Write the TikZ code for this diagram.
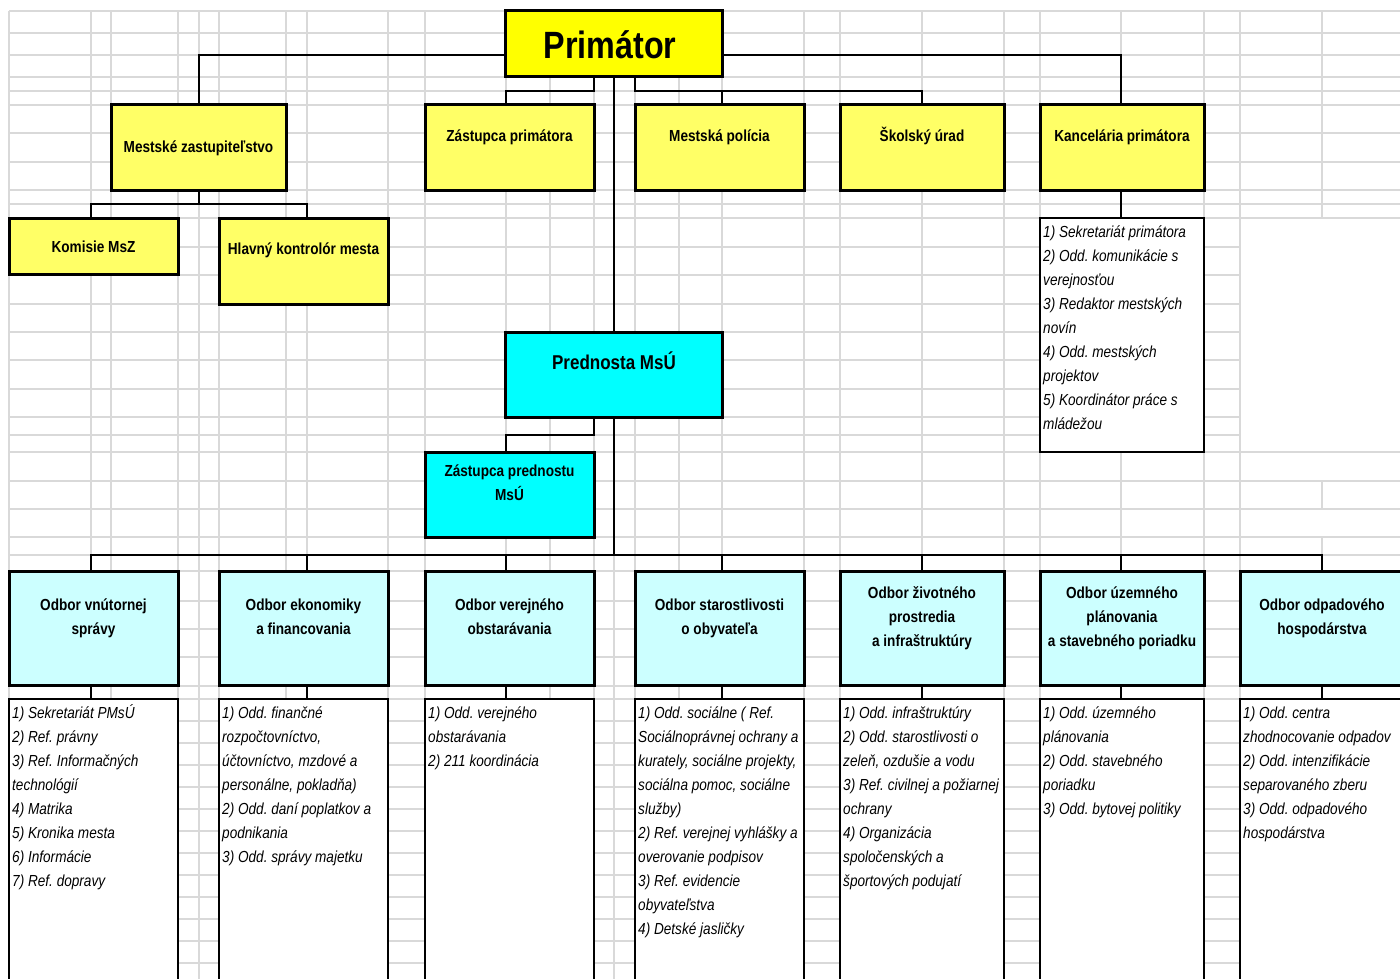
\documentclass[tikz,border=0pt]{standalone}
\usepackage{fontspec}
\setmainfont{Liberation Sans}[FakeStretch=0.85]
\usetikzlibrary{calc}
\frenchspacing
\definecolor{gridc}{RGB}{217,217,217}
\definecolor{primc}{RGB}{255,255,0}
\definecolor{lvlc}{RGB}{255,255,102}
\definecolor{cyanc}{RGB}{0,255,255}
\definecolor{odbc}{RGB}{204,255,255}
\newcommand\hdrtxt[1]{\parbox[t]{220pt}{\centering #1}}
\newcommand\lsttxt[1]{\parbox[t]{220pt}{\raggedright #1}}
\tikzset{
  basebox/.style={anchor=north west, inner sep=0pt, outer sep=0pt},
  heavy/.style={basebox, draw=black, line width=3pt},
  listbox/.style={basebox, draw=black, line width=1.6pt, fill=white},
  conn/.style={draw=black, line width=2pt},
  gridline/.style={draw=gridc, line width=1.6pt},
  hdr/.style={font=\fontsize{16}{24}\selectfont\bfseries, anchor=base, inner sep=0pt},
  itm/.style={font=\fontsize{16}{24}\selectfont\itshape, anchor=base west, inner sep=0pt},
}
\begin{document}
\begin{tikzpicture}[x=1pt,y=-1pt]
\useasboundingbox (0,0) rectangle (1400,979);
\clip (0,0) rectangle (1400,979);
\fill[white] (0,0) rectangle (1400,979);
% ---------- spreadsheet grid ----------
\foreach \x in {9,91,111,178,199,219,286,307,388,425,506,550,594,614,635,679,722,804,840,922,1004,1040,1121,1204,1240}
  \draw[gridline] (\x,11) -- (\x,979);
\foreach \y in {11,33,55,77,91,105,133,162,190,204,218,452,481,509,537,555,571,601,629,657,686,699,721,743,765,787,809,831,853,875,897,919,941,963}
  \draw[gridline] (9,\y) -- (1400,\y);
\foreach \y in {247,275,304,332,360,389,417,435}
  \draw[gridline] (9,\y) -- (1240,\y);
\draw[gridline] (1322,11) -- (1322,218);
\draw[gridline] (1322,481) -- (1322,509);
\draw[gridline] (1322,537) -- (1322,555);
% ---------- reference coordinates ----------
\coordinate (r55) at (0,55);
\coordinate (r91) at (0,91);
\coordinate (r204) at (0,204);
\coordinate (r435) at (0,435);
\coordinate (r555) at (0,555);
\coordinate (c91) at (91,0);
\coordinate (c199) at (199,0);
\coordinate (c307) at (307,0);
\coordinate (c506) at (506,0);
\coordinate (c594) at (594,0);
\coordinate (c614) at (614,0);
\coordinate (c635) at (635,0);
\coordinate (c722) at (722,0);
\coordinate (c922) at (922,0);
\coordinate (c1121) at (1121,0);
\coordinate (c1322) at (1322,0);
% ---------- boxes ----------
\node[heavy, fill=primc, minimum width=217, minimum height=66] (prim) at (505,11) {};
\node[heavy, fill=lvlc, minimum width=175, minimum height=85] (mz) at (111,105) {};
\node[heavy, fill=lvlc, minimum width=169, minimum height=85] (zp) at (425,105) {};
\node[heavy, fill=lvlc, minimum width=169, minimum height=85] (mp) at (635,105) {};
\node[heavy, fill=lvlc, minimum width=164, minimum height=85] (su) at (840,105) {};
\node[heavy, fill=lvlc, minimum width=164, minimum height=85] (kp) at (1040,105) {};
\node[heavy, fill=lvlc, minimum width=169, minimum height=56] (km) at (9,218) {};
\node[heavy, fill=lvlc, minimum width=169, minimum height=86] (hk) at (219,218) {};
\node[listbox, minimum width=164, minimum height=234] (kl) at (1040,218) {};
\node[heavy, fill=cyanc, minimum width=217, minimum height=85] (pr) at (505,332) {};
\node[heavy, fill=cyanc, minimum width=169, minimum height=85] (zpr) at (425,452) {};
\node[heavy, fill=odbc, minimum width=169, minimum height=114] (o1) at (9,571) {};
\node[heavy, fill=odbc, minimum width=169, minimum height=114] (o2) at (219,571) {};
\node[heavy, fill=odbc, minimum width=169, minimum height=114] (o3) at (425,571) {};
\node[heavy, fill=odbc, minimum width=169, minimum height=114] (o4) at (635,571) {};
\node[heavy, fill=odbc, minimum width=164, minimum height=114] (o5) at (840,571) {};
\node[heavy, fill=odbc, minimum width=164, minimum height=114] (o6) at (1040,571) {};
\node[heavy, fill=odbc, minimum width=164, minimum height=114] (o7) at (1240,571) {};
\node[listbox, minimum width=169, minimum height=320] (l1) at (9,699) {};
\node[listbox, minimum width=169, minimum height=320] (l2) at (219,699) {};
\node[listbox, minimum width=169, minimum height=320] (l3) at (425,699) {};
\node[listbox, minimum width=169, minimum height=320] (l4) at (635,699) {};
\node[listbox, minimum width=164, minimum height=320] (l5) at (840,699) {};
\node[listbox, minimum width=164, minimum height=320] (l6) at (1040,699) {};
\node[listbox, minimum width=164, minimum height=320] (l7) at (1240,699) {};
% ---------- connectors ----------
\draw[conn] (mz.north -| c199) |- (prim.west |- r55);
\draw[conn] (kp.north -| c1121) |- (prim.east |- r55);
\draw[conn] (prim.south -| c594) -- (c594 |- r91) -| (zp.north -| c506);
\draw[conn] (prim.south -| c635) -- (c635 |- r91) -| (su.north -| c922);
\draw[conn] (mp.north -| c722) -- (c722 |- r91);
\draw[conn] (prim.south -| c614) -- (pr.north -| c614);
\draw[conn] (pr.south -| c614) -- (c614 |- r555);
\draw[conn] (pr.south -| c594) -- (c594 |- r435) -| (zpr.north -| c506);
\draw[conn] (mz.south -| c199) -- (c199 |- r204);
\draw[conn] (km.north -| c91) |- (c307 |- r204) -- (hk.north -| c307);
\draw[conn] (kp.south -| c1121) -- (kl.north -| c1121);
\draw[conn] (o1.north -| c91) |- (c1322 |- r555) -- (o7.north -| c1322);
\draw[conn] (o2.north -| c307) -- (c307 |- r555);
\draw[conn] (o3.north -| c506) -- (c506 |- r555);
\draw[conn] (o4.north -| c722) -- (c722 |- r555);
\draw[conn] (o5.north -| c922) -- (c922 |- r555);
\draw[conn] (o6.north -| c1121) -- (c1121 |- r555);
\draw[conn] (o1.south -| c91) -- (l1.north -| c91);
\draw[conn] (o2.south -| c307) -- (l2.north -| c307);
\draw[conn] (o3.south -| c506) -- (l3.north -| c506);
\draw[conn] (o4.south -| c722) -- (l4.north -| c722);
\draw[conn] (o5.south -| c922) -- (l5.north -| c922);
\draw[conn] (o6.south -| c1121) -- (l6.north -| c1121);
\draw[conn] (o7.south -| c1322) -- (l7.north -| c1322);
% ---------- texts ----------
\node[hdr, font=\fontsize{38}{40}\selectfont\bfseries] (tprim) at (610,59) {Primátor};
\node[hdr] (tmz) at (198.5,153) {Mestské zastupiteľstvo};
\node[hdr] (tzp) at (509.5,141.5) {Zástupca primátora};
\node[hdr] (tmp) at (719.5,141.5) {Mestská polícia};
\node[hdr] (tsu) at (922,141.5) {Školský úrad};
\node[hdr] (tkp) at (1122,141.5) {Kancelária primátora};
\node[hdr] (tkm) at (93.5,252) {Komisie MsZ};
\node[hdr] (thk) at (303.5,254) {Hlavný kontrolór mesta};
\node[hdr, font=\fontsize{20}{24}\selectfont\bfseries] (tpr) at (614,369) {Prednosta MsÚ};
\node[hdr] (tzpr) at (509.5,476.5) {\hdrtxt{Zástupca prednostu\\MsÚ}};
\node[hdr] (to1) at (93.5,610.5) {\hdrtxt{Odbor vnútornej\\správy}};
\node[hdr] (to2) at (303.5,610.5) {\hdrtxt{Odbor ekonomiky\\a financovania}};
\node[hdr] (to3) at (509.5,610.5) {\hdrtxt{Odbor verejného\\obstarávania}};
\node[hdr] (to4) at (719.5,610.5) {\hdrtxt{Odbor starostlivosti\\o obyvateľa}};
\node[hdr] (to5) at (922,598.5) {\hdrtxt{Odbor životného\\prostredia\\a infraštruktúry}};
\node[hdr] (to6) at (1122,598.5) {\hdrtxt{Odbor územného\\plánovania\\a stavebného poriadku}};
\node[hdr] (to7) at (1322,610.5) {\hdrtxt{Odbor odpadového\\hospodárstva}};
\node[itm] (tkl) at (1043,237) {\lsttxt{1) Sekretariát primátora\\2) Odd. komunikácie s\\verejnosťou\\3) Redaktor mestských\\novín\\4) Odd. mestských\\projektov\\5) Koordinátor práce s\\mládežou}};
\node[itm] (tl1) at (12,718) {\lsttxt{1) Sekretariát PMsÚ\\2) Ref. právny\\3) Ref. Informačných\\technológií\\4) Matrika\\5) Kronika mesta\\6) Informácie\\7) Ref. dopravy}};
\node[itm] (tl2) at (222,718) {\lsttxt{1) Odd. finančné\\rozpočtovníctvo,\\účtovníctvo, mzdové a\\personálne, pokladňa)\\2) Odd. daní poplatkov a\\podnikania\\3) Odd. správy majetku}};
\node[itm] (tl3) at (428,718) {\lsttxt{1) Odd. verejného\\obstarávania\\2) 211 koordinácia}};
\node[itm] (tl4) at (638,718) {\lsttxt{1) Odd. sociálne ( Ref.\\Sociálnoprávnej ochrany a\\kurately, sociálne projekty,\\sociálna pomoc, sociálne\\služby)\\2) Ref. verejnej vyhlášky a\\overovanie podpisov\\3) Ref. evidencie\\obyvateľstva\\4) Detské jasličky}};
\node[itm] (tl5) at (843,718) {\lsttxt{1) Odd. infraštruktúry\\2) Odd. starostlivosti o\\zeleň, ozdušie a vodu\\3) Ref. civilnej a požiarnej\\ochrany\\4) Organizácia\\spoločenských a\\športových podujatí}};
\node[itm] (tl6) at (1043,718) {\lsttxt{1) Odd. územného\\plánovania\\2) Odd. stavebného\\poriadku\\3) Odd. bytovej politiky}};
\node[itm] (tl7) at (1243,718) {\lsttxt{1) Odd. centra\\zhodnocovanie odpadov\\2) Odd. intenzifikácie\\separovaného zberu\\3) Odd. odpadového\\hospodárstva}};
\end{tikzpicture}
\end{document}
